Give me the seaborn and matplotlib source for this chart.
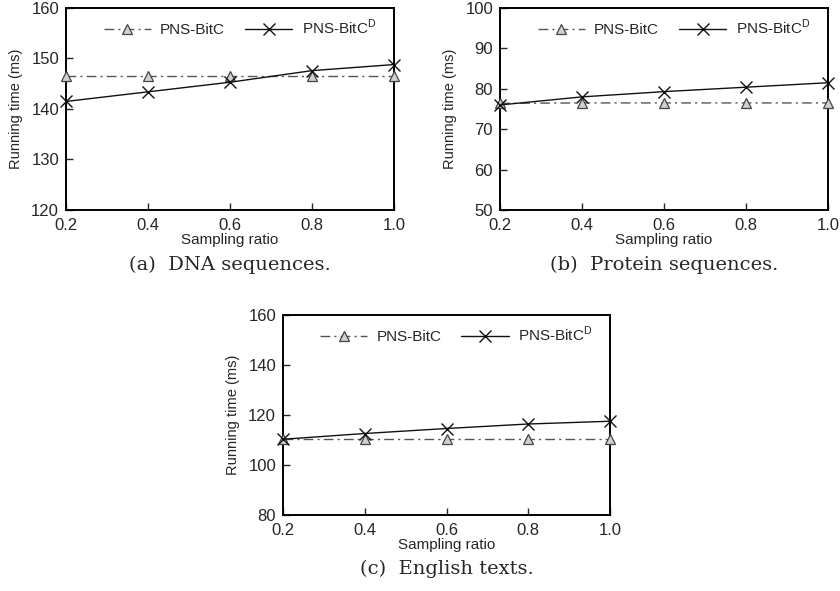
import numpy as np
import pandas as pd
import matplotlib
matplotlib.use("Agg")
import matplotlib.pyplot as plt
import seaborn as sns

ratios = [0.2, 0.4, 0.6, 0.8, 1.0]

dna_bitc = [146.5, 146.5, 146.5, 146.5, 146.5]
dna_bitcd = [141.5, 143.4, 145.3, 147.6, 148.8]

protein_bitc = [76.4, 76.5, 76.5, 76.5, 76.5]
protein_bitcd = [76.0, 78.0, 79.3, 80.4, 81.5]

english_bitc = [110.5, 110.5, 110.5, 110.5, 110.5]
english_bitcd = [110.3, 112.6, 114.6, 116.4, 117.5]

series_names = ["PNS-BitC", "PNS-BitC$^{\\mathrm{D}}$"]
captions = ["(a)  DNA sequences.", "(b)  Protein sequences.", "(c)  English texts."]
ylims = [(120, 160, 10), (50, 100, 10), (80, 160, 20)]

sns.set_style("ticks")
plt.rcParams['font.family'] = ['Liberation Sans', 'DejaVu Sans']
plt.rcParams['mathtext.fontset'] = 'custom'
plt.rcParams['mathtext.rm'] = 'Liberation Sans'

W, H = 840, 591
fig = plt.figure(figsize=(W / 100, H / 100), dpi=100)

# axes boxes in pixels: left, top, right, bottom
boxes = [(66, 8, 394, 210), (500, 8, 828, 210), (283, 315, 610, 515)]
panels = [(dna_bitc, dna_bitcd), (protein_bitc, protein_bitcd), (english_bitc, english_bitcd)]

for (l, t, r, b), (s1, s2), cap, (lo, hi, step) in zip(boxes, panels, captions, ylims):
    ax = fig.add_axes([l / W, 1 - b / H, (r - l) / W, (b - t) / H])
    df = pd.DataFrame({
        "ratio": ratios * 2,
        "time": s1 + s2,
        "method": [series_names[0]] * 5 + [series_names[1]] * 5,
    })
    sns.lineplot(data=df[df.method == series_names[0]], x="ratio", y="time", ax=ax,
                 color="#555555", linestyle=(0, (7, 3, 1.5, 3)), linewidth=1.0,
                 marker="^", markersize=7, markerfacecolor="#d0d0d0",
                 markeredgecolor="#444444", markeredgewidth=0.9,
                 label=series_names[0], clip_on=False, zorder=3)
    sns.lineplot(data=df[df.method == series_names[1]], x="ratio", y="time", ax=ax,
                 color="#111111", linestyle="-", linewidth=1.0,
                 marker="x", markersize=9, markeredgewidth=1.0,
                 markeredgecolor="#111111", label=series_names[1],
                 clip_on=False, zorder=4)
    ax.set_xlim(0.2, 1.0)
    ax.set_ylim(lo, hi)
    ax.set_xticks(ratios)
    ax.set_xticklabels(["0.2", "0.4", "0.6", "0.8", "1.0"])
    ax.set_yticks(np.arange(lo, hi + 1, step))
    ax.tick_params(direction="in", length=5, width=1, labelsize=12, top=False, right=False)
    ax.tick_params(axis="x", pad=6)
    ax.tick_params(axis="y", pad=5)
    for sp in ax.spines.values():
        sp.set_visible(True)
        sp.set_linewidth(1.4)
        sp.set_color("black")
    ax.set_xlabel("Sampling ratio", fontsize=11, labelpad=0)
    ax.set_ylabel("Running time (ms)", fontsize=10.5, labelpad=6)
    ax.legend(loc="upper center", bbox_to_anchor=(0.53, 1.02), ncol=2, frameon=False,
              fontsize=11, handlelength=3.1, columnspacing=1.3, handletextpad=0.6)
    ax.text(0.5, -0.27, cap, transform=ax.transAxes, ha="center", va="center",
            fontsize=14, family="DejaVu Serif")

fig.savefig("out.png", dpi=100)
